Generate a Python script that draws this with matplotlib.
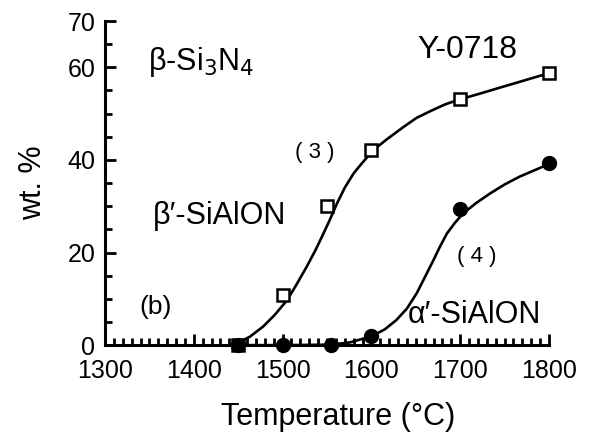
import matplotlib
matplotlib.use("Agg")
import matplotlib.pyplot as plt
from matplotlib.ticker import MultipleLocator, FixedLocator

plt.rcParams['font.family'] = ['Liberation Sans', 'DejaVu Sans']

# measured points, series (3) beta'-SiAlON and (4) alpha'-SiAlON
t3 = [1450, 1500, 1550, 1600, 1700, 1800]
w3 = [0, 10.8, 30.0, 42.1, 53.1, 58.7]
t4 = [1450, 1500, 1555, 1600, 1700, 1800]
w4 = [0, 0, 0, 2.0, 29.4, 39.3]

# hand drawn guide curves
c3_t = [1448, 1463, 1478, 1491, 1505, 1516, 1527, 1537, 1546, 1553, 1561, 1570, 1580,
        1589, 1602, 1617, 1636, 1651, 1666, 1683, 1700, 1720, 1741, 1771, 1801]
c3_w = [0.4, 1.8, 4.0, 6.5, 9.7, 13.2, 16.9, 20.5, 24.1, 27.0, 30.5, 34.0, 37.1,
        39.2, 42.1, 44.4, 47.1, 49.1, 50.5, 52.0, 53.1, 54.2, 55.4, 57.1, 58.8]
c4_t = [1450, 1500, 1555, 1576, 1600, 1615, 1628, 1640, 1651, 1660, 1670, 1677, 1685,
        1694, 1703, 1718, 1734, 1750, 1767, 1784, 1801]
c4_w = [0, 0, 0.1, 0.6, 1.9, 3.4, 5.4, 7.9, 11.2, 14.6, 18.4, 21.2, 24.1,
        26.4, 28.4, 30.7, 32.8, 34.7, 36.4, 37.8, 39.2]

xticks = [1300, 1400, 1500, 1600, 1700, 1800]
yticks = [0, 20, 40, 60, 70]

fig = plt.figure(figsize=(6, 4.38), dpi=100)
ax = fig.add_axes([0.175, 0.212, 0.74, 0.74])

ax.plot(c3_t, c3_w, color='black', lw=1.9, clip_on=False, solid_joinstyle='round')
ax.plot(c4_t, c4_w, color='black', lw=1.9, clip_on=False, solid_joinstyle='round')
ax.plot(t3, w3, ls='none', marker='s', ms=8.5, mfc='white', mec='black', mew=1.8,
        clip_on=False, zorder=3)
ax.plot(t4, w4, ls='none', marker='o', ms=10, color='black', clip_on=False, zorder=4)

ax.set_xlim(1300, 1800)
ax.set_ylim(0, 70)
ax.xaxis.set_major_locator(FixedLocator(xticks))
ax.xaxis.set_minor_locator(MultipleLocator(10))
ax.yaxis.set_major_locator(FixedLocator(yticks))
ax.yaxis.set_minor_locator(MultipleLocator(5))
ax.tick_params(which='both', direction='in', width=2)
ax.tick_params(which='major', length=8, labelsize=18)
ax.tick_params(which='minor', length=5)
ax.tick_params(axis='x', pad=10)
ax.tick_params(axis='y', pad=7)

for s in ['top', 'right']:
    ax.spines[s].set_visible(False)
for s in ['left', 'bottom']:
    ax.spines[s].set_linewidth(2.2)

ax.set_xlabel('Temperature (°C)', fontsize=22)
ax.xaxis.set_label_coords(0.525, -0.175)
ax.set_ylabel('wt. %', fontsize=22, labelpad=14)

ax.text(1348, 61.1, 'β-Si$_3$N$_4$', fontsize=22, va='center')
ax.text(1652, 63.7, 'Y-0718', fontsize=23, va='center')
ax.text(1514, 41.7, '( 3 )', fontsize=16, va='center')
ax.text(1354, 27.9, 'β′-SiAlON', fontsize=22, va='center')
ax.text(1339, 8.2, '(b)', fontsize=19, va='center')
ax.text(1696, 19.1, '( 4 )', fontsize=16, va='center')
ax.text(1641, 6.5, 'α′-SiAlON', fontsize=22, va='center')

fig.savefig('out.png', dpi=100)
